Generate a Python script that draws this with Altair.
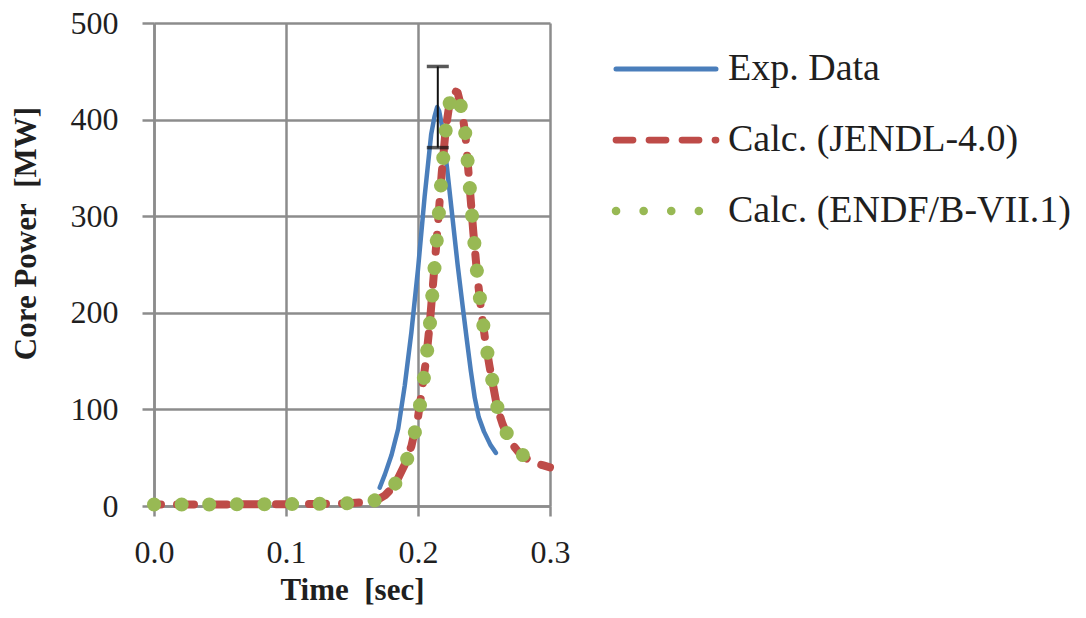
import altair as alt
import pandas as pd

# ---------------- data ----------------
series_names = ["Exp. Data", "Calc. (JENDL-4.0)", "Calc. (ENDF/B-VII.1)"]
series_colors = ["#4A7EBB", "#BE4B48", "#98B954"]

t_exp = [0.171, 0.175, 0.180, 0.185, 0.190, 0.195, 0.200, 0.205, 0.210, 0.2125,
         0.2145, 0.216, 0.218, 0.222, 0.226, 0.230, 0.234, 0.237, 0.240, 0.243,
         0.246, 0.250, 0.255, 0.259]
p_exp = [19, 33, 53, 80, 125, 180, 245, 320, 385, 403,
         413, 409, 395, 350, 300, 250, 205, 172, 140, 112,
         92, 77, 63, 55]

t_jendl = [0.000, 0.020, 0.040, 0.060, 0.080, 0.100, 0.120, 0.140, 0.150, 0.160,
           0.165, 0.170, 0.175, 0.180, 0.185, 0.190, 0.195, 0.200, 0.203, 0.206,
           0.209, 0.212, 0.215, 0.218, 0.221, 0.224, 0.227, 0.230, 0.233, 0.236,
           0.239, 0.242, 0.245, 0.248, 0.251, 0.254, 0.257, 0.260, 0.264, 0.268,
           0.272, 0.276, 0.280, 0.285, 0.290, 0.295, 0.300]
p_jendl = [1.5, 1.5, 1.6, 1.7, 1.8, 1.9, 2.1, 2.5, 3, 4,
           5, 7, 11, 18, 29, 43, 62, 92, 120, 150,
           190, 240, 290, 345, 390, 418, 430, 428, 412, 383,
           333, 282, 237, 201, 171, 146, 124, 102, 85, 72,
           63, 56, 51, 47, 44, 42, 40]

t_endf = [0.000, 0.020, 0.040, 0.060, 0.080, 0.100, 0.120, 0.140, 0.150, 0.160,
          0.165, 0.170, 0.175, 0.180, 0.185, 0.190, 0.195, 0.200, 0.203, 0.206,
          0.209, 0.212, 0.215, 0.218, 0.221, 0.224, 0.227, 0.230, 0.233, 0.236,
          0.239, 0.242, 0.245, 0.248, 0.251, 0.254, 0.257, 0.260, 0.264, 0.268,
          0.272, 0.276, 0.280]
p_endf = [1.5, 1.5, 1.6, 1.7, 1.8, 1.9, 2.1, 2.5, 3, 4,
          5, 7, 10, 17, 28, 42, 61, 90, 118, 148,
          188, 238, 288, 343, 389, 417, 428, 426, 411, 384,
          334, 283, 238, 202, 172, 147, 125, 103, 86, 73,
          64, 57, 52]

err_t = [0.215]
err_low = [371]
err_high = [455]

x_ticks = [0.0, 0.1, 0.2, 0.3]
y_ticks = [0, 100, 200, 300, 400, 500]

# ---------------- styling ----------------
FONT = "Liberation Serif"
TXT = "#1f1f1f"
GRID = "#8c8c8c"
DASH_RED = [17, 16]
DASH_GREEN = [0.1, 27.5]

df_exp = pd.DataFrame({"t": t_exp, "p": p_exp})
df_jendl = pd.DataFrame({"t": t_jendl, "p": p_jendl})
df_endf = pd.DataFrame({"t": t_endf, "p": p_endf})
df_err = pd.DataFrame({"t": err_t, "low": err_low, "high": err_high})

x_scale = alt.Scale(domain=[0, 0.3], nice=False, zero=False)
y_scale = alt.Scale(domain=[0, 500], nice=False)

x_axis = alt.Axis(
    values=x_ticks, format=".1f", title="Time\u00a0 [sec]",
    grid=True, gridColor=GRID, gridWidth=2.5,
    domainColor=GRID, domainWidth=2.5,
    tickColor=GRID, tickWidth=2.5, tickSize=10,
    labelFont=FONT, labelFontSize=32, labelColor=TXT, labelPadding=21,
    labelFlush=False, labelOverlap=False,
    titleFont=FONT, titleFontSize=31, titleFontWeight="bold", titleColor=TXT,
    titlePadding=7,
)
y_axis = alt.Axis(
    values=y_ticks, title="Core Power\u00a0 [MW]",
    grid=True, gridColor=GRID, gridWidth=2.5,
    domainColor=GRID, domainWidth=2.5,
    tickColor=GRID, tickWidth=2.5, tickSize=12,
    labelFont=FONT, labelFontSize=32, labelColor=TXT, labelPadding=24,
    labelFlush=False, labelOverlap=False,
    titleFont=FONT, titleFontSize=31, titleFontWeight="bold", titleColor=TXT,
    titlePadding=28, titleY=210,
)

base_exp = alt.Chart(df_exp).mark_line(
    color=series_colors[0], strokeWidth=4.5, strokeCap="round", strokeJoin="round"
).encode(
    x=alt.X("t:Q", scale=x_scale, axis=x_axis),
    y=alt.Y("p:Q", scale=y_scale, axis=y_axis),
    order="t:Q",
)
line_jendl = alt.Chart(df_jendl).mark_line(
    color=series_colors[1], strokeWidth=8, strokeCap="round", strokeJoin="round",
    strokeDash=DASH_RED, strokeDashOffset=10,
).encode(x="t:Q", y="p:Q", order="t:Q")
line_endf = alt.Chart(df_endf).mark_line(
    color=series_colors[2], strokeWidth=14, strokeCap="round", strokeJoin="round",
    strokeDash=DASH_GREEN,
).encode(x="t:Q", y="p:Q", order="t:Q")

err_rule = alt.Chart(df_err).mark_rule(color="#111111", strokeWidth=2).encode(
    x="t:Q", y="low:Q", y2="high:Q"
)
err_cap_hi = alt.Chart(df_err).mark_tick(
    color="#111111", orient="horizontal", size=22, thickness=3.5
).encode(x="t:Q", y="high:Q")
err_cap_lo = alt.Chart(df_err).mark_tick(
    color="#111111", orient="horizontal", size=22, thickness=3.5
).encode(x="t:Q", y="low:Q")

main = alt.layer(base_exp, line_jendl, line_endf, err_rule, err_cap_hi, err_cap_lo).properties(
    width=396, height=483
)

# ---------------- legend panel ----------------
leg_df = pd.DataFrame({
    "series": series_names,
    "x0": [0.0, 0.0, 0.0],
    "x1": [1.0, 1.0, 1.0],
})
leg_x = alt.Scale(domain=[0, 4.6], nice=False, zero=False)
leg_y = alt.Scale(type="point", domain=series_names, padding=0.648)

leg_rule = alt.Chart(leg_df).mark_rule(strokeCap="round").encode(
    x=alt.X("x0:Q", scale=leg_x, axis=None),
    x2="x1:Q",
    y=alt.Y("series:N", scale=leg_y, axis=None),
    color=alt.Color("series:N", scale=alt.Scale(domain=series_names, range=series_colors), legend=None),
    strokeDash=alt.StrokeDash("series:N", scale=alt.Scale(domain=series_names, range=[[1, 0], DASH_RED, DASH_GREEN]), legend=None),
    strokeWidth=alt.StrokeWidth("series:N", scale=alt.Scale(domain=series_names, range=[5, 8.5, 13]), legend=None),
)
leg_text = alt.Chart(leg_df).mark_text(
    align="left", baseline="middle", dx=12, font=FONT, fontSize=38, color=TXT
).encode(
    x=alt.X("x1:Q", scale=leg_x, axis=None),
    y=alt.Y("series:N", scale=leg_y, axis=None),
    text="series:N",
)
legend = alt.layer(leg_rule, leg_text).properties(width=460, height=234)

chart = alt.hconcat(main, legend, spacing=66, bounds="flush").properties(
    padding={"left": 10, "top": 7, "right": 5, "bottom": 5},
    background="white",
).configure_view(strokeWidth=0)

chart.save("out.html", embed_options={"renderer": "svg", "actions": False})
